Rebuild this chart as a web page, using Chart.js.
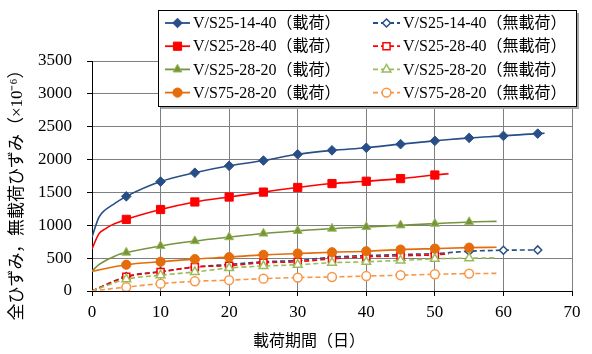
<!DOCTYPE html>
<html lang="ja">
<head>
<meta charset="UTF-8">
<title>載荷期間とひずみ</title>
<script src="https://cdn.jsdelivr.net/npm/chart.js"></script>
<style>
  html, body { margin: 0; padding: 0; background: #fff; }
  #wrap { position: relative; width: 592px; height: 354px; }
</style>
</head>
<body>
<div id="wrap"><canvas id="strainChart" width="592" height="354"></canvas></div>
<script>
// 凡例の名前
const seriesNames = [
  'V/S25-14-40（載荷）', 'V/S25-14-40（無載荷）',
  'V/S25-28-40（載荷）', 'V/S25-28-40（無載荷）',
  'V/S25-28-20（載荷）', 'V/S25-28-20（無載荷）',
  'V/S75-28-20（載荷）', 'V/S75-28-20（無載荷）'
];

// 載荷期間（日）
const daysA = [0, 1, 2, 3, 4, 5, 10, 15, 20, 25, 30, 35, 40, 45, 50, 55, 60, 65, 66];
const daysB = [0, 5, 10, 15, 20, 25, 30, 35, 40, 45, 50, 55, 60, 65];
const daysC = [0, 1, 2, 3, 4, 5, 10, 15, 20, 25, 30, 35, 40, 45, 50, 52];
const daysD = [0, 5, 10, 15, 20, 25, 30, 35, 40, 45, 50, 52];
const daysE = [0, 1, 2, 3, 4, 5, 10, 15, 20, 25, 30, 35, 40, 45, 50, 55, 59];
const daysF = [0, 5, 10, 15, 20, 25, 30, 35, 40, 45, 50, 55, 59];

// ひずみ（×10^-6）
const s2514Load   = [820, 1120, 1240, 1310, 1380, 1440, 1665, 1800, 1905, 1985, 2080, 2140, 2180, 2235, 2285, 2330, 2360, 2395, 2400];
const s2514Free   = [0, 220, 295, 365, 405, 445, 465, 515, 540, 555, 570, 605, 620, 625];
const s2540Load   = [640, 870, 950, 1010, 1050, 1090, 1240, 1355, 1430, 1505, 1575, 1635, 1670, 1710, 1765, 1785];
const s2540Free   = [0, 215, 290, 365, 385, 430, 445, 490, 520, 535, 550, 565];
const s2520Load   = [305, 400, 465, 515, 560, 585, 685, 760, 820, 875, 915, 950, 975, 1000, 1025, 1050, 1060];
const s2520Free   = [0, 180, 240, 290, 350, 380, 400, 430, 445, 465, 490, 500, 505];
const s7520Load   = [300, 400, 445, 485, 515, 550, 570, 590, 605, 630, 645, 660, 665];
const s7520Free   = [0, 60, 112, 148, 165, 188, 205, 213, 228, 240, 255, 265, 268];

const seriesDays = [daysA, daysB, daysC, daysD, daysE, daysF, daysF, daysF];
const seriesVals = [s2514Load, s2514Free, s2540Load, s2540Free, s2520Load, s2520Free, s7520Load, s7520Free];

// 見た目
const lineColors = ['#274E87', '#274E87', '#FF0000', '#FF0000', '#77933C', '#9BBB59', '#E46C0A', '#F79646'];
const markFill   = ['#274E87', '#FFFFFF', '#FF0000', '#FFFFFF', '#77933C', '#FFFFFF', '#E46C0A', '#FFFFFF'];
const markBorder = ['#274E87', '#274E87', '#FF0000', '#FF0000', '#9BBB59', '#9BBB59', '#E46C0A', '#F79646'];
const markStyle  = ['rectRot', 'rectRot', 'rect', 'rect', 'triangle', 'triangle', 'circle', 'circle'];
const markSize   = [4.8, 4, 5.8, 5, 5.2, 5, 4.6, 4.4];

const serif = '"Liberation Serif", "Times New Roman", "Noto Sans CJK JP", serif';

const datasets = seriesNames.map((name, i) => {
  const d = seriesDays[i];
  const dashed = i % 2 === 1;
  return {
    label: name,
    data: seriesVals[i].map((v, k) => ({ x: d[k], y: v })),
    borderColor: lineColors[i],
    borderWidth: 1.6,
    borderDash: dashed ? [5, 3] : [],
    backgroundColor: markFill[i],
    pointBackgroundColor: markFill[i],
    pointBorderColor: markBorder[i],
    pointBorderWidth: dashed ? 1.5 : 1,
    pointStyle: markStyle[i],
    pointRadius: ctx => (d[ctx.dataIndex] > 0 && d[ctx.dataIndex] % 5 === 0) ? markSize[i] : 0,
    cubicInterpolationMode: 'monotone',
    fill: false,
    order: seriesNames.length - i
  };
});

// 軸タイトル
const axisTitles = {
  id: 'axisTitles',
  afterDraw(chart) {
    const ctx = chart.ctx;
    ctx.save();
    ctx.fillStyle = '#000';
    ctx.textAlign = 'center';
    ctx.textBaseline = 'middle';
    ctx.font = '16px ' + serif;
    ctx.fillText('載荷期間（日）', 309, 342);
    ctx.translate(18, 191);
    ctx.rotate(-Math.PI / 2);
    ctx.font = '17px ' + serif;
    ctx.fillText('全ひずみ，無載荷ひずみ（×10⁻⁶）', 0, 0);
    ctx.restore();
  }
};

// 凡例（グラフ上に重ねる）
const boxLegend = {
  id: 'boxLegend',
  afterDraw(chart) {
    const ctx = chart.ctx;
    const L = 158, T = 10, W = 418, H = 96;
    ctx.save();
    ctx.fillStyle = '#A6A6A6';
    ctx.fillRect(L + 3, T + 3, W, H);
    ctx.fillStyle = '#FFFFFF';
    ctx.fillRect(L, T, W, H);
    ctx.strokeStyle = '#000';
    ctx.lineWidth = 1;
    ctx.strokeRect(L + 0.5, T + 0.5, W, H);
    ctx.font = '16px ' + serif;
    ctx.textBaseline = 'middle';
    ctx.textAlign = 'left';
    chart.data.datasets.forEach((ds, i) => {
      const col = i % 2, row = Math.floor(i / 2);
      const cy = T + 13 + row * 23.2;
      const x0 = col ? 373 : 165, x1 = col ? 400 : 190;
      ctx.strokeStyle = ds.borderColor;
      ctx.lineWidth = 1.8;
      ctx.setLineDash(ds.borderDash);
      ctx.beginPath();
      ctx.moveTo(x0, cy);
      ctx.lineTo(x1, cy);
      ctx.stroke();
      ctx.setLineDash([]);
      ctx.fillStyle = markFill[i];
      ctx.strokeStyle = markBorder[i];
      ctx.lineWidth = ds.pointBorderWidth;
      Chart.helpers.drawPoint(ctx, { pointStyle: markStyle[i], radius: markSize[i], rotation: 0, borderWidth: ds.pointBorderWidth }, (x0 + x1) / 2, cy);
      ctx.fillStyle = '#000';
      ctx.fillText(ds.label, col ? 403 : 193, cy + 1);
    });
    ctx.restore();
  }
};

new Chart(document.getElementById('strainChart'), {
  type: 'line',
  data: { datasets },
  plugins: [axisTitles, boxLegend],
  options: {
    responsive: false,
    animation: false,
    layout: { padding: { left: 0, right: 20, top: 61, bottom: 0 } },
    plugins: { legend: { display: false }, tooltip: { enabled: false } },
    scales: {
      x: {
        type: 'linear', min: 0, max: 70,
        ticks: { stepSize: 10, color: '#000', padding: 6, font: { family: serif, size: 17 } },
        grid: { color: '#7F7F7F', tickLength: 5, tickColor: '#000' },
        border: { color: '#000', width: 1 },
        afterFit(s) { s.height = 63; }
      },
      y: {
        min: 0, max: 3500,
        ticks: { stepSize: 500, color: '#000', padding: 15, font: { family: serif, size: 17 },
                 callback: v => String(v) },
        grid: { color: '#7F7F7F', tickLength: 5, tickColor: '#000' },
        border: { color: '#000', width: 1 },
        afterFit(s) { s.width = 92; }
      }
    }
  }
});
</script>
</body>
</html>
